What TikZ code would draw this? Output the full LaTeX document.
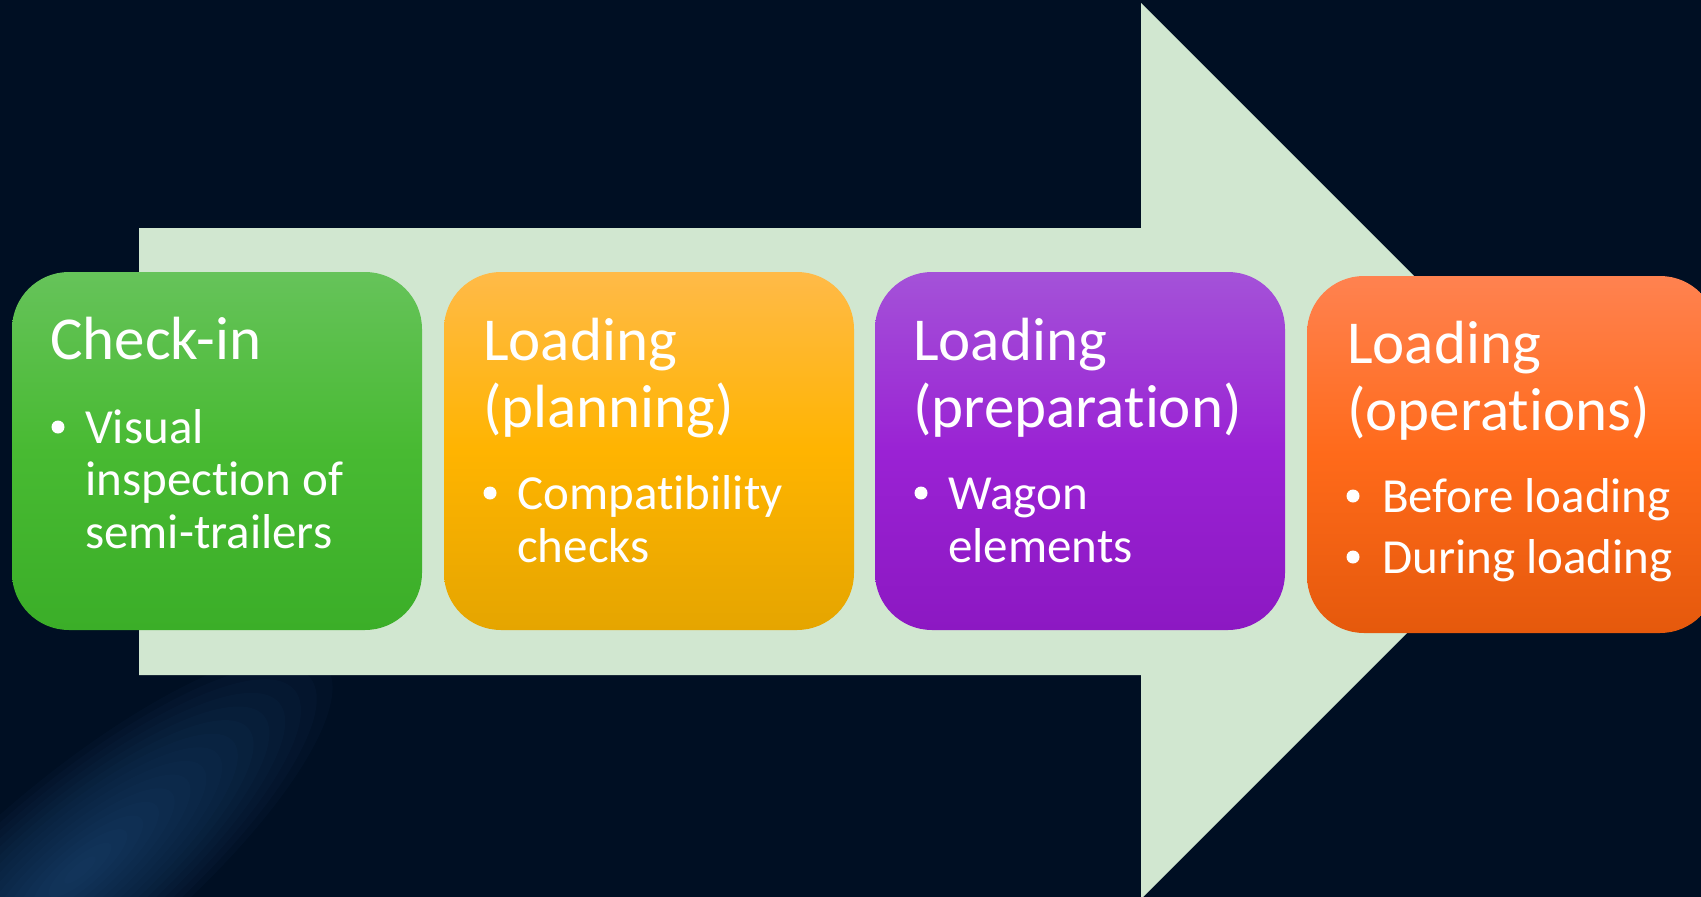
\documentclass[tikz,border=0pt]{standalone}
\usepackage{fontspec}
\setmainfont{Carlito}[Ligatures=NoCommon]
\definecolor{bg}{HTML}{000F23}
\definecolor{streak}{HTML}{2A5A8E}
\definecolor{arrowc}{HTML}{D1E7D0}
\definecolor{g1}{HTML}{66C35A}
\definecolor{g2}{HTML}{48BA32}
\definecolor{g3}{HTML}{3BAE28}
\definecolor{y1}{HTML}{FFBA48}
\definecolor{y2}{HTML}{FFB400}
\definecolor{y3}{HTML}{E5A500}
\definecolor{p1}{HTML}{A452D8}
\definecolor{p2}{HTML}{9A22D4}
\definecolor{p3}{HTML}{8C18C2}
\definecolor{o1}{HTML}{FF8250}
\definecolor{o2}{HTML}{FF6A1A}
\definecolor{o3}{HTML}{E5590C}
\tikzset{
 box/.style={rectangle, rounded corners=57pt, minimum width=410pt, minimum height=358pt, inner sep=0pt},
 ttl/.style={anchor=base west, inner sep=0pt, text=white, font=\fontsize{61}{67}\selectfont},
 itm/.style={anchor=base west, inner sep=0pt, text=white, font=\fontsize{49}{53}\selectfont},
 dot/.style={circle, fill=white, minimum size=13pt, inner sep=0pt},
 arrowbody/.style={fill=arrowc}
}
\begin{document}
\begin{tikzpicture}[x=1pt,y=-1pt]
\useasboundingbox (0,0) rectangle (1701,897);
\fill[bg] (0,0) rectangle (1701,897);
\begin{scope}
\clip (0,0) rectangle (1701,897);
\begin{scope}[shift={(80,870)}, rotate=40]
\foreach \k in {1,...,16}{
  \fill[streak, opacity=0.05] (0,0) ellipse ({340*(1-\k/17)} and {100*(1-\k/17)});
}
\end{scope}
% arrow
\fill[arrowbody] (139,228) -- (1141,228) -- (1141,3) -- (1589,451) -- (1141,899) -- (1141,675) -- (139,675) -- cycle;
\end{scope}
% boxes
\node[box, top color=g1, bottom color=g3, middle color=g2] (b1) at (217,451) {};
\node[box, top color=y1, bottom color=y3, middle color=y2] (b2) at (649,451) {};
\node[box, top color=p1, bottom color=p3, middle color=p2] (b3) at (1080,451) {};
\node[box, top color=o1, bottom color=o3, middle color=o2, minimum height=357pt] (b4) at (1512,454.5) {};
% green
\node[ttl] (t1a) at (50,359) {Check-in};
\node[dot] (d1a) at (58,427) {};
\node[itm] (i1a) at (85,443) {Visual};
\node[itm] (i1b) at (85,495) {inspection of};
\node[itm] (i1c) at (85,548) {semi-trailers};
% yellow
\node[ttl] (t2a) at (483,360) {Loading};
\node[ttl] (t2b) at (483,427) {(planning)};
\node[dot] (d2a) at (490,493) {};
\node[itm] (i2a) at (517,509) {Compatibility};
\node[itm] (i2b) at (517,562) {checks};
% purple
\node[ttl] (t3a) at (913,360) {Loading};
\node[ttl] (t3b) at (913,427) {(preparation)};
\node[dot] (d3a) at (921,493) {};
\node[itm] (i3a) at (948,509) {Wagon};
\node[itm] (i3b) at (948,562) {elements};
% orange
\node[ttl] (t4a) at (1347,363) {Loading};
\node[ttl] (t4b) at (1347,430) {(operations)};
\node[dot] (d4a) at (1353,496) {};
\node[itm] (i4a) at (1382,512) {Before loading};
\node[dot] (d4b) at (1353,557) {};
\node[itm] (i4b) at (1382,573) {During loading};
\end{tikzpicture}
\end{document}
